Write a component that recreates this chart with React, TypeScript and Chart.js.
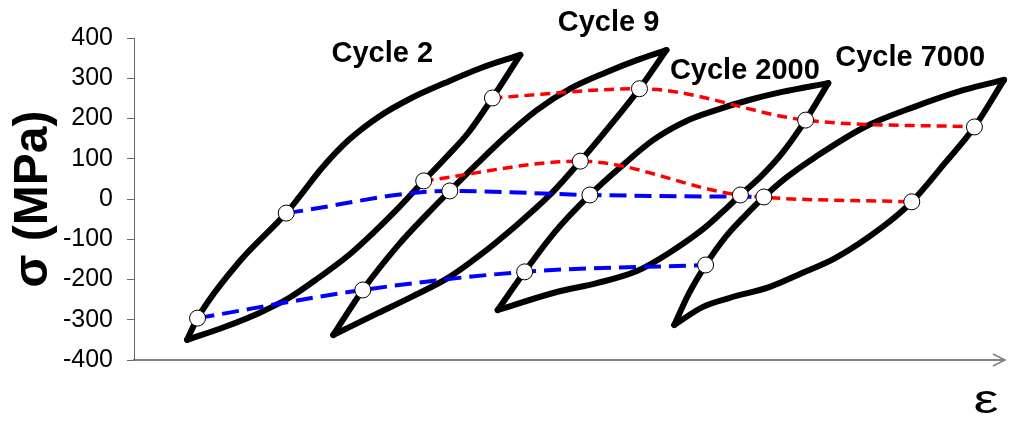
import { useEffect, useRef } from "react";
import { Chart, registerables } from "chart.js";

Chart.register(...registerables);

// Strain axis in arbitrary units (0–100), stress σ in MPa.
const yTickValues = [-400, -300, -200, -100, 0, 100, 200, 300, 400];
const cycleNames = ["Cycle 2", "Cycle 9", "Cycle 2000", "Cycle 7000"];

// Cycle 2
const c2LoadStrain = [6.1, 7.3, 12.1, 17.5, 19.0, 21.6, 24.7, 28.1, 31.9, 35.7, 39.8, 44.4];
const c2LoadStress = [-350, -296, -156, -35, 5, 77, 147, 204, 251, 288, 325, 358];
const c2UnloadStrain = [44.4, 41.2, 38.4, 35.8, 33.3, 30.4, 27.5, 24.7, 21.2, 17.8, 14.4, 10.4, 6.1];
const c2UnloadStress = [358, 251, 164, 102, 45, -22, -84, -139, -196, -246, -283, -318, -350];

// Cycle 9
const c9LoadStrain = [22.9, 26.3, 30.4, 33.8, 36.3, 39.5, 42.9, 46.3, 50.3, 54.3, 57.8, 61.2];
const c9LoadStress = [-338, -226, -114, -35, 20, 89, 159, 221, 276, 315, 345, 370];
const c9UnloadStrain = [61.2, 58.1, 54.3, 51.3, 47.8, 43.7, 39.8, 36.1, 31.9, 28.1, 22.9];
const c9UnloadStress = [370, 274, 171, 94, 10, -70, -139, -196, -243, -283, -338];

// Cycle 2000
const c2000LoadStrain = [41.8, 44.9, 48.3, 52.4, 55.8, 59.7, 63.5, 66.9, 70.7, 74.5, 79.8];
const c2000LoadStress = [-276, -181, -84, 10, 77, 147, 194, 221, 246, 266, 288];
const c2000UnloadStrain = [79.8, 77.2, 74.5, 72.1, 69.7, 67.5, 65.4, 61.5, 57.8, 53.2, 48.6, 41.8];
const c2000UnloadStress = [288, 196, 114, 57, 10, -35, -75, -134, -179, -209, -231, -276];

// Cycle 7000
const c7000LoadStrain = [62.1, 63.7, 65.7, 68.0, 70.3, 72.4, 74.9, 78.3, 84.0, 89.7, 95.4, 100];
const c7000LoadStress = [-313, -238, -164, -94, -40, 5, 52, 104, 179, 229, 271, 296];
const c7000UnloadStrain = [100, 96.6, 93.2, 89.4, 86.0, 80.6, 76.8, 73.0, 68.4, 65.4, 62.1];
const c7000UnloadStress = [296, 179, 89, -7, -70, -147, -184, -219, -246, -268, -313];

// Marked points joined across cycles
const redUpperStrain = [41.2, 58.1, 77.2, 96.6];
const redUpperStress = [251, 274, 196, 179];
const redLowerStrain = [33.3, 51.3, 69.7, 89.4];
const redLowerStress = [45, 94, 10, -7];
const blueUpperStrain = [17.5, 36.3, 52.4, 72.4];
const blueUpperStress = [-35, 20, 10, 5];
const blueLowerStrain = [7.3, 26.3, 44.9, 65.7];
const blueLowerStress = [-296, -226, -181, -164];

const zip = (xs: number[], ys: number[]) => xs.map((x, i) => ({ x, y: ys[i] }));

const FONT = "'Liberation Sans', Arial, Helvetica, sans-serif";

const decorPlugin = {
  id: "decor",
  afterDraw(chart: any, _args: any, opts: any) {
    const { ctx, chartArea, scales } = chart;
    const xs = scales.x;
    const ys = scales.y;
    ctx.save();
    ctx.fillStyle = "#000";
    ctx.font = `bold ${opts.labelSize}px ${FONT}`;
    ctx.textAlign = "left";
    ctx.textBaseline = "alphabetic";
    opts.labelAnchors.forEach((a: number[], i: number) => {
      ctx.fillText(cycleNames[i], xs.getPixelForValue(a[0]), ys.getPixelForValue(a[1]));
    });
    // arrow head on strain axis
    const ax = chartArea.right + 1;
    const ay = chartArea.bottom;
    ctx.strokeStyle = "#808080";
    ctx.lineWidth = 1.5;
    ctx.beginPath();
    ctx.moveTo(ax - 12, ay - 6);
    ctx.lineTo(ax, ay);
    ctx.lineTo(ax - 12, ay + 6);
    ctx.stroke();
    // strain symbol
    ctx.font = `${opts.epsSize}px ${FONT}`;
    ctx.textAlign = "center";
    ctx.translate(chartArea.right - 18, chartArea.bottom + 53);
    ctx.scale(1.4, 1);
    ctx.fillText("ε", 0, 0);
    ctx.restore();
  },
};

export default function App() {
  const ref = useRef<HTMLCanvasElement | null>(null);

  useEffect(() => {
    if (!ref.current) return;
    const loop = (xs: number[], ys: number[]) => ({
      data: zip(xs, ys),
      borderColor: "#000",
      borderWidth: 6,
      borderCapStyle: "round" as const,
      borderJoinStyle: "round" as const,
      pointRadius: 0,
      cubicInterpolationMode: "monotone" as const,
      clip: false as any,
      order: 3,
    });
    const dashed = (xs: number[], ys: number[], color: string, dash: number[], w: number) => ({
      data: zip(xs, ys),
      borderColor: color,
      borderWidth: w,
      borderDash: dash,
      pointRadius: 0,
      cubicInterpolationMode: "monotone" as const,
      order: 2,
    });
    const markers = (xs: number[], ys: number[]) => ({
      data: zip(xs, ys),
      showLine: false,
      pointRadius: 8,
      pointBackgroundColor: "#fff",
      pointBorderColor: "#000",
      pointBorderWidth: 1,
      order: 1,
    });

    const chart = new Chart(ref.current, {
      type: "line",
      data: {
        datasets: [
          loop(c2LoadStrain, c2LoadStress),
          loop(c2UnloadStrain, c2UnloadStress),
          loop(c9LoadStrain, c9LoadStress),
          loop(c9UnloadStrain, c9UnloadStress),
          loop(c2000LoadStrain, c2000LoadStress),
          loop(c2000UnloadStrain, c2000UnloadStress),
          loop(c7000LoadStrain, c7000LoadStress),
          loop(c7000UnloadStrain, c7000UnloadStress),
          dashed(redUpperStrain, redUpperStress, "#ff0000", [10, 6], 3.5),
          dashed(redLowerStrain, redLowerStress, "#ff0000", [10, 6], 3.5),
          dashed(blueUpperStrain, blueUpperStress, "#0000ff", [17, 8], 4),
          dashed(blueLowerStrain, blueLowerStress, "#0000ff", [17, 8], 4),
          markers(redUpperStrain, redUpperStress),
          markers(redLowerStrain, redLowerStress),
          markers(blueUpperStrain, blueUpperStress),
          markers(blueLowerStrain, blueLowerStress),
        ] as any,
      },
      options: {
        responsive: false,
        animation: false,
        layout: { padding: { left: 0, top: 38, right: 3, bottom: 62 } },
        plugins: {
          legend: { display: false },
          tooltip: { enabled: false },
          decor: {
            labelSize: 29,
            epsSize: 40,
            labelAnchors: [
              [22.7, 341],
              [48.7, 417],
              [61.6, 298],
              [80.6, 330],
            ],
          },
        } as any,
        scales: {
          x: {
            type: "linear",
            min: 0,
            max: 100,
            ticks: { display: false },
            grid: { display: false },
            border: { display: true, color: "#808080", width: 2 },
            afterFit: (s: any) => {
              s.height = 0;
            },
          },
          y: {
            type: "linear",
            min: -400,
            max: 400,
            afterBuildTicks: (s: any) => {
              s.ticks = yTickValues.map((v) => ({ value: v }));
            },
            ticks: {
              color: "#000",
              font: { family: FONT, size: 25 },
              padding: 14,
            },
            grid: { drawOnChartArea: false, drawTicks: true, tickLength: 7, color: "#666" },
            border: { display: true, color: "#666", width: 1 },
            title: {
              display: true,
              text: "σ (MPa)",
              color: "#000",
              font: { family: FONT, size: 48, weight: "bold" },
              padding: { top: 5, bottom: 0 },
            },
            afterFit: (s: any) => {
              s.width = 134;
            },
          },
        },
      },
      plugins: [decorPlugin],
    });
    return () => chart.destroy();
  }, []);

  return (
    <div style={{ position: "absolute", left: 0, top: 0, width: 1013, height: 422 }}>
      <canvas ref={ref} width={1013} height={422} style={{ display: "block", width: 1013, height: 422 }} />
    </div>
  );
}
